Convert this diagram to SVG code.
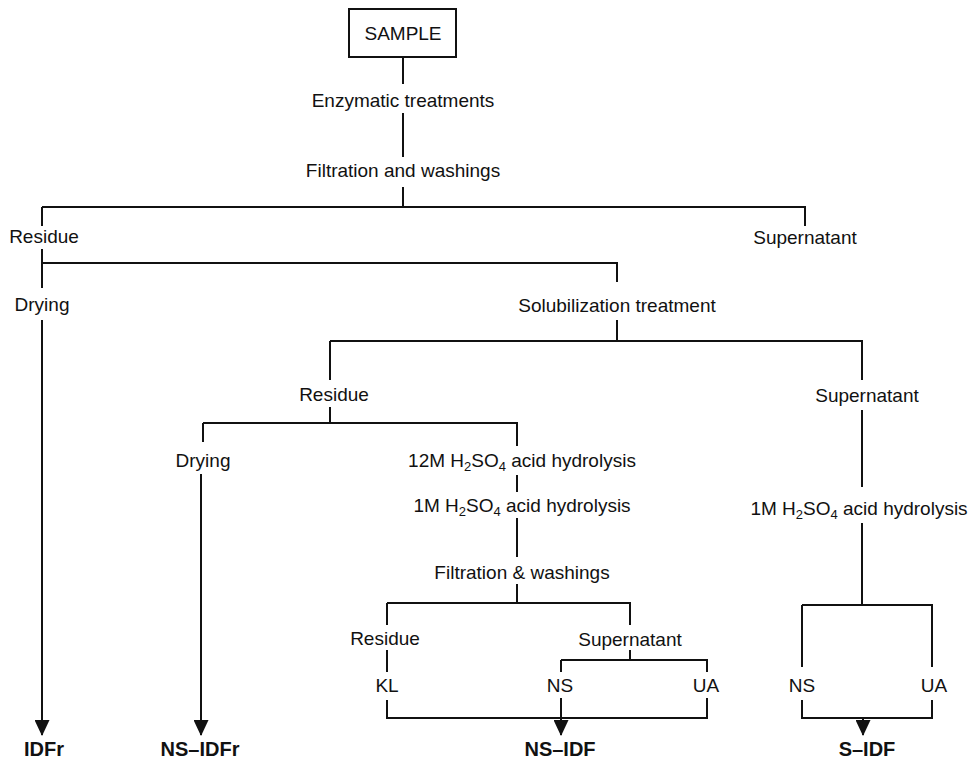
<svg xmlns="http://www.w3.org/2000/svg" width="976" height="763" viewBox="0 0 976 763">
<defs>
<style>
.t{font-family:"Liberation Sans",Arial,Helvetica,sans-serif;font-size:19px;fill:#111;text-anchor:middle}
.b{font-weight:bold;font-size:20px}
.ln{stroke:#111;stroke-width:2;fill:none}
.box{stroke:#111;stroke-width:2;fill:#fff}
.sub{font-size:13px}
</style>
<marker id="ah" markerUnits="userSpaceOnUse" markerWidth="16" markerHeight="15" refX="15" refY="7.5" orient="auto">
<path d="M0,0 L16,7.5 L0,15 Z" fill="#111"/>
</marker>
</defs>
<rect width="976" height="763" fill="#fff"/>
<g id="connectors">
<path class="ln" d="M403 57 V84 M403 113 V157 M403 187 V207 M42 207 H805 V226"/>
<path class="ln" d="M42 207 V226 M42 249 V288 M42 263 H617 V282"/>
<path class="ln" marker-end="url(#ah)" d="M42 320 V735"/>
<path class="ln" d="M617 320 V341 M330 341 H862 V380 M330 341 V380"/>
<path class="ln" d="M330 407 V423 M203 423 H517 V446 M203 423 V442"/>
<path class="ln" marker-end="url(#ah)" d="M201 474 V735"/>
<path class="ln" d="M517 475 V492 M517 518 V557 M517 584 V603 M387 603 H630 V625 M387 603 V625"/>
<path class="ln" d="M387 650 V672 M387 700 V718 H707 V698 M630 650 V660 M561 660 H707 V672 M561 660 V672"/>
<path class="ln" marker-end="url(#ah)" d="M561 698 V735"/>
<path class="ln" d="M862 410 V487 M862 523 V605 M802 605 H932 V667 M802 605 V667 M802 700 V718 H932 V700"/>
<path class="ln" marker-end="url(#ah)" d="M863 718 V735"/>
</g>
<g id="sample"><rect class="box" x="349" y="9" width="107" height="48"/><text class="t" x="403" y="40">SAMPLE</text></g>
<g id="enzymatic"><text class="t" x="403" y="107">Enzymatic treatments</text></g>
<g id="filtration1"><text class="t" x="403" y="177">Filtration and washings</text></g>
<g id="residue1"><text class="t" x="44" y="243">Residue</text></g>
<g id="supernatant1"><text class="t" x="805" y="244">Supernatant</text></g>
<g id="drying1"><text class="t" x="42" y="311">Drying</text></g>
<g id="solubilization"><text class="t" x="617" y="312">Solubilization treatment</text></g>
<g id="residue2"><text class="t" x="334" y="401">Residue</text></g>
<g id="supernatant2"><text class="t" x="867" y="402">Supernatant</text></g>
<g id="drying2"><text class="t" x="203" y="467">Drying</text></g>
<g id="hydrolysis12"><text class="t" x="522" y="467">12M H<tspan class="sub" dy="4">2</tspan><tspan dy="-4">SO</tspan><tspan class="sub" dy="4">4</tspan><tspan dy="-4"> acid hydrolysis</tspan></text></g>
<g id="hydrolysis1a"><text class="t" x="522" y="512">1M H<tspan class="sub" dy="4">2</tspan><tspan dy="-4">SO</tspan><tspan class="sub" dy="4">4</tspan><tspan dy="-4"> acid hydrolysis</tspan></text></g>
<g id="filtration2"><text class="t" x="522" y="579">Filtration &amp; washings</text></g>
<g id="hydrolysis1b"><text class="t" x="859" y="515">1M H<tspan class="sub" dy="4">2</tspan><tspan dy="-4">SO</tspan><tspan class="sub" dy="4">4</tspan><tspan dy="-4"> acid hydrolysis</tspan></text></g>
<g id="residue3"><text class="t" x="385" y="645">Residue</text></g>
<g id="supernatant3"><text class="t" x="630" y="646">Supernatant</text></g>
<g id="kl"><text class="t" x="387" y="692">KL</text></g>
<g id="ns1"><text class="t" x="560" y="692">NS</text></g>
<g id="ua1"><text class="t" x="706" y="692">UA</text></g>
<g id="ns2"><text class="t" x="802" y="692">NS</text></g>
<g id="ua2"><text class="t" x="934" y="692">UA</text></g>
<g id="idfr"><text class="t b" x="44" y="756">IDFr</text></g>
<g id="ns-idfr"><text class="t b" x="200" y="756">NS–IDFr</text></g>
<g id="ns-idf"><text class="t b" x="560" y="756">NS–IDF</text></g>
<g id="s-idf"><text class="t b" x="867" y="756">S–IDF</text></g>
</svg>
